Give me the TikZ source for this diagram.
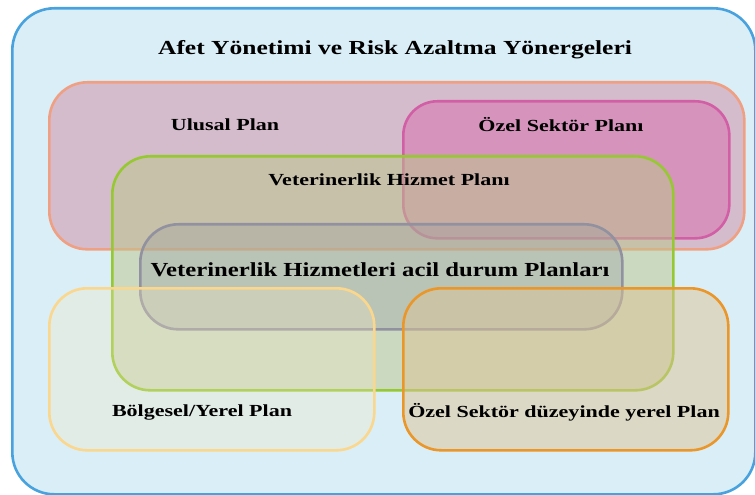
\documentclass[tikz,border=0pt]{standalone}
\usepackage{graphicx}
\usepackage{fontspec}
\setmainfont{Liberation Serif}
\definecolor{outerfill}{RGB}{218,238,248}
\definecolor{outerline}{RGB}{72,162,222}
\definecolor{salmonline}{RGB}{240,160,130}
\definecolor{salmonfill}{RGB}{210,140,162}
\definecolor{magline}{RGB}{210,95,165}
\definecolor{magfill}{RGB}{215,110,175}
\definecolor{greenline}{RGB}{150,200,50}
\definecolor{greenfill}{RGB}{188,198,138}
\definecolor{grayline}{RGB}{145,145,160}
\definecolor{grayfill}{RGB}{150,150,160}
\definecolor{yelline}{RGB}{250,215,140}
\definecolor{yelfill}{RGB}{245,232,192}
\definecolor{orline}{RGB}{235,150,40}
\definecolor{orfill}{RGB}{220,195,150}
\tikzset{
  x=1bp,y=-1bp,
  region/.style={rectangle,rounded corners=38bp,line width=2.6bp,inner sep=0pt,anchor=north west},
  lbl/.style={inner sep=0pt,font=\bfseries\fontsize{17}{20}\selectfont},
  ttl/.style={inner sep=0pt,font=\bfseries\fontsize{20}{24}\selectfont},
}
\newcommand{\wid}[2]{\scalebox{#1}[1]{#2}}
\begin{document}
\begin{tikzpicture}
\useasboundingbox (0,0) rectangle (755,495);
\node[region,draw=outerline,fill=outerfill,minimum width=743bp,minimum height=486bp,rounded corners=42bp] (outer) at (11,7) {};
\node[region,draw=salmonline,fill=salmonfill,fill opacity=0.5,minimum width=695bp,minimum height=167bp] (ulusal) at (48,81) {};
\node[region,draw=magline,fill=magfill,fill opacity=0.5,minimum width=326bp,minimum height=137bp,rounded corners=34bp] (ozel) at (402,100) {};
\node[region,draw=greenline,fill=greenfill,fill opacity=0.5,minimum width=561bp,minimum height=234bp] (vet) at (111,155) {};
\node[region,draw=grayline,fill=grayfill,fill opacity=0.3,minimum width=482bp,minimum height=105bp] (acil) at (139,223) {};
\node[region,draw=yelline,fill=yelfill,fill opacity=0.3,minimum width=325bp,minimum height=162bp] (bolge) at (48,287) {};
\node[region,draw=orline,fill=orfill,fill opacity=0.5,minimum width=325bp,minimum height=162bp] (ozelyerel) at (402,287) {};
\node[ttl] (t0) at (395,50) {\wid{1.28}{Afet Yönetimi ve Risk Azaltma Yönergeleri}};
\node[lbl] (t1) at (225,125) {\wid{1.3}{Ulusal Plan}};
\node[lbl] (t2) at (561,125) {\wid{1.3}{Özel Sektör Planı}};
\node[lbl] (t3) at (389,180) {\wid{1.3}{Veterinerlik Hizmet Planı}};
\node[ttl] (t4) at (380,270) {\wid{1.24}{Veterinerlik Hizmetleri acil durum Planları}};
\node[lbl] (t5) at (202,412) {\wid{1.3}{Bölgesel/Yerel Plan}};
\node[lbl] (t6) at (564,412) {\wid{1.3}{Özel Sektör düzeyinde yerel Plan}};
\end{tikzpicture}
\end{document}
